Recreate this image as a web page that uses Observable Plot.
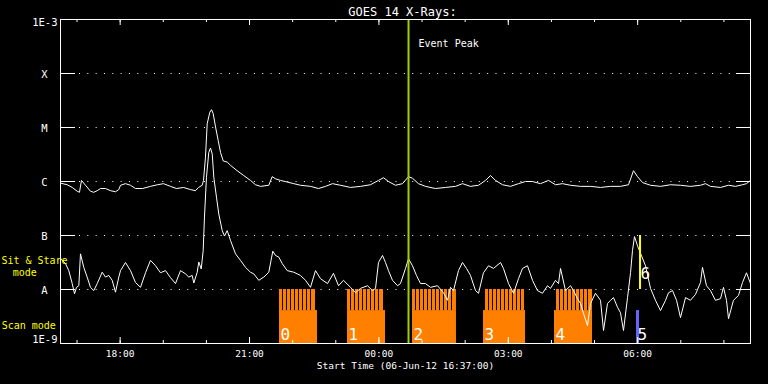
<!DOCTYPE html>
<html><head><meta charset="utf-8">
<script src="https://cdn.jsdelivr.net/npm/d3@7"></script>
<script src="https://cdn.jsdelivr.net/npm/@observablehq/plot@0.6"></script>
<style>html,body{margin:0;padding:0;background:#000;overflow:hidden}</style>
</head><body><div id="chart"></div>
<script>
// ---- data ----
const START = Date.UTC(2012, 5, 6, 16, 37); // 06-Jun-12 16:37:00 UT
const END_MIN = 960;

// GOES 14 long channel (1-8 A): [minutes after start, log10 flux W/m^2]
const longChannel = [[0,-6.03],[9.3,-6.06],[16.3,-6.11],[23.2,-6.18],[26.4,-6.20],[29.2,-5.98],[34.8,-6.07],[41.7,-6.18],[46.3,-6.20],[51.1,-6.17],[55.7,-6.13],[62.6,-6.13],[69.6,-6.17],[76.5,-6.19],[81.1,-6.15],[83.5,-6.07],[90.4,-6.04],[97.4,-6.07],[104.3,-6.13],[114.1,-6.13],[125.2,-6.09],[135,-6.06],[143.3,-6.04],[153,-6.09],[161.4,-6.13],[171.1,-6.11],[180.9,-6.15],[187.8,-6.17],[192,-6.11],[197.1,-6.07],[199,-5.98],[201.7,-5.55],[204.1,-4.93],[207.7,-4.72],[210.1,-4.67],[212.4,-4.74],[215.7,-4.99],[219.4,-5.24],[222.6,-5.46],[226.4,-5.62],[231.9,-5.64],[236.5,-5.70],[245.8,-5.80],[255,-5.89],[264.3,-5.98],[271.3,-6.06],[278.3,-6.09],[289.8,-6.07],[294.5,-5.91],[299.1,-5.95],[306.1,-5.98],[315.4,-6.01],[324.6,-6.04],[333.9,-6.07],[347.8,-6.09],[359,-6.13],[368.7,-6.09],[378.4,-6.04],[389.6,-6.07],[403.5,-6.11],[417.4,-6.09],[431.3,-6.06],[442.4,-5.98],[449.4,-5.93],[456.3,-6.00],[466.1,-6.07],[475.8,-6.04],[484.2,-5.91],[489.7,-5.94],[498.1,-6.04],[507.8,-6.09],[521.7,-6.13],[535.6,-6.11],[549.6,-6.09],[559.3,-6.04],[570.4,-6.09],[581.6,-6.07],[591.3,-5.98],[598.3,-5.89],[605.2,-5.98],[615,-6.06],[626.1,-6.09],[637.2,-6.04],[647,-6.00],[656.7,-6.00],[667.8,-6.04],[679,-5.98],[688.7,-6.06],[698.4,-6.04],[709.6,-6.07],[723.5,-6.09],[737.4,-6.09],[751.3,-6.11],[765.2,-6.09],[779.1,-6.09],[790.3,-6.06],[797.2,-5.80],[802.8,-5.91],[809.8,-6.02],[820.9,-6.07],[834.8,-6.09],[848.7,-6.06],[862.6,-6.07],[876.5,-6.09],[890.4,-6.07],[897.4,-6.04],[904.3,-6.09],[918.3,-6.11],[929.4,-6.07],[939.1,-6.09],[948.9,-6.06],[954.4,-6.04],[960,-5.98]];

// GOES 14 short channel (0.5-4 A)
const shortChannel = [[0,-7.43],[7,-7.52],[11.5,-7.65],[16.3,-7.89],[19.5,-8.08],[22.3,-7.96],[25.5,-7.93],[27.8,-7.34],[32.4,-7.59],[37.1,-7.77],[41.7,-7.96],[46.3,-8.02],[51.1,-7.89],[58,-7.68],[62.6,-7.77],[67.2,-7.74],[71.9,-7.83],[76.5,-8.05],[81.1,-7.77],[83.5,-7.65],[90.4,-7.50],[97.4,-7.65],[104.3,-7.87],[111.3,-7.96],[118.3,-7.69],[125.2,-7.46],[132.2,-7.56],[139.1,-7.69],[146.1,-7.65],[153,-7.78],[160,-7.89],[167,-7.65],[173.9,-7.71],[178.5,-7.77],[183.2,-7.74],[185.5,-7.88],[190.2,-7.68],[192.4,-7.49],[195.8,-7.62],[198.5,-7.28],[200.3,-6.66],[203.1,-5.92],[206.3,-5.46],[208.7,-5.38],[211.1,-5.49],[213.3,-5.92],[217,-6.29],[220.2,-6.60],[225,-6.91],[228.2,-7.01],[231.9,-6.91],[236.5,-7.09],[243.5,-7.34],[250.4,-7.46],[257.4,-7.59],[264.3,-7.68],[268.9,-7.71],[275.9,-7.83],[282.9,-7.77],[289.8,-7.68],[295.4,-7.29],[299.1,-7.37],[303.7,-7.40],[308.5,-7.52],[315.4,-7.65],[324.6,-7.68],[333.9,-7.74],[340.9,-7.83],[347.8,-7.96],[354.8,-7.65],[361.7,-7.80],[371.5,-7.89],[379.8,-7.70],[386.8,-7.93],[393.7,-7.83],[403.5,-7.96],[410.4,-8.06],[417.4,-7.98],[427.1,-7.93],[434.1,-8.02],[438.3,-7.98],[442.4,-7.50],[448,-7.37],[452.2,-7.50],[456.3,-7.65],[461.9,-7.83],[468.9,-7.93],[473,-7.89],[480,-7.61],[484.2,-7.43],[489.7,-7.56],[495.3,-7.74],[500.9,-7.89],[507.8,-7.89],[514.8,-7.96],[524.5,-7.93],[532.9,-8.06],[538.4,-8.20],[542.6,-7.96],[546.8,-8.02],[553.7,-7.65],[559.3,-7.50],[564.9,-7.61],[570.4,-7.74],[577.4,-8.02],[581.6,-8.07],[588.5,-7.69],[595.5,-7.56],[602.4,-7.61],[612.2,-7.50],[616.3,-7.61],[623.3,-7.89],[630.3,-8.07],[637.2,-7.80],[642.8,-7.61],[649.7,-7.56],[656.7,-7.83],[663.6,-8.02],[670.6,-8.07],[677.6,-7.93],[681.7,-7.98],[688.7,-7.83],[692.9,-7.89],[695.7,-7.61],[702.6,-8.02],[709.6,-7.93],[713.7,-8.02],[719.3,-8.17],[723.5,-8.26],[727.6,-8.44],[733.2,-8.67],[737.4,-8.26],[744.3,-8.07],[751.3,-8.20],[755.5,-8.76],[761,-8.26],[765.2,-8.20],[769.4,-8.15],[775,-8.33],[779.1,-8.43],[783.3,-8.76],[788.9,-8.15],[793.1,-7.69],[795.8,-7.28],[798.6,-7.02],[802.8,-7.19],[807,-7.33],[813.9,-7.56],[820.9,-7.98],[827.8,-8.20],[834.8,-8.39],[841.8,-8.20],[845.9,-8.06],[851.5,-8.02],[857.1,-8.20],[862.6,-8.52],[869.6,-8.15],[876.5,-8.20],[883.5,-8.09],[890.4,-7.87],[893.2,-7.59],[898.8,-7.93],[904.3,-8.02],[911.3,-8.20],[918.3,-8.17],[922.4,-7.96],[926.6,-8.20],[929.4,-8.54],[936.3,-8.20],[943.3,-8.11],[948.9,-7.87],[954.4,-7.69],[960,-7.89]];

// Observation studies (minutes after start)
const studyLabels = ["0", "1", "2", "3", "4"];
const scanStart  = [304.7, 399.3, 489.7, 588.5, 687.3];
const scanEnd    = [357.6, 452.2, 550.9, 647.0, 740.2];
const stareStart = [304.7, 399.3, 489.7, 591.3, 690.1];
const stareEnd   = [354.8, 449.4, 550.9, 645.6, 740.2];
const stareGaps = [
  308.9, 314.4, 320.0, 325.6, 331.1, 336.7, 342.3, 347.8,
  403.5, 409.0, 414.6, 420.2, 425.7, 431.3, 436.9, 442.4,
  493.9, 499.5, 505.0, 510.6, 516.2, 521.7, 527.3, 532.9, 538.4, 544.0,
  595.5, 601.0, 606.6, 612.2, 617.7, 623.3, 628.9, 634.4, 640.0,
  694.3, 699.8, 705.4, 711.0, 716.5, 722.1, 727.7, 733.2
];
const scanStudy5 = {label: "5", start: 801.4, end: 805.6};
const stareStudy6 = {label: "6", start: 805.6, end: 808.4};
const eventPeak = 484.2; // 00:41 UT

// Axis labels
const levelValues = [1e-3, 1e-4, 1e-5, 1e-6, 1e-7, 1e-8, 1e-9];
const levelLabels = ["1E-3", "X", "M", "C", "B", "A", "1E-9"];
const gridLevels = [1e-4, 1e-5, 1e-6, 1e-7, 1e-8];
const majorTickTimes = ["2012-06-06T18:00Z", "2012-06-06T21:00Z", "2012-06-07T00:00Z", "2012-06-07T03:00Z", "2012-06-07T06:00Z"];
const majorTickLabels = ["18:00", "21:00", "00:00", "03:00", "06:00"];
const titleText = "GOES 14 X-Rays:";
const xTitle = "Start Time (06-Jun-12 16:37:00)";

// ---- build ----
const t = m => new Date(START + m * 60000);
const longData = longChannel.map(([m, l]) => ({t: t(m), f: Math.pow(10, l)}));
const shortData = shortChannel.map(([m, l]) => ({t: t(m), f: Math.pow(10, l)}));
const studies = studyLabels.map((label, i) => ({label, s0: scanStart[i], s1: scanEnd[i], r0: stareStart[i], r1: stareEnd[i]}));
const majors = majorTickTimes.map((d, i) => ({t: new Date(d), label: majorTickLabels[i]}));
const hours = d3.utcHour.range(t(0), t(END_MIN));
const levels = levelValues.map((v, i) => ({v, label: levelLabels[i]}));

const ORANGE = "#ff8000";
const SCAN_TOP = Math.pow(10, -8.39);
const FONT = "DejaVu Sans Mono";
const PW = 690, PH = 324;

const chart = Plot.plot({
  width: 768, height: 384,
  marginLeft: 60, marginRight: 18, marginTop: 19, marginBottom: 41,
  style: {background: "black", color: "white", fontFamily: FONT},
  x: {type: "utc", domain: [t(0), t(END_MIN)], axis: null},
  y: {type: "log", domain: [1e-9, 1e-3], axis: null},
  marks: [
    Plot.ruleY(gridLevels, {y: d => d, stroke: "white", strokeDasharray: "1,7.33", strokeDashoffset: -2.33}),
    Plot.rect(studies, {x1: d => t(d.s0), x2: d => t(d.s1), y1: 1e-9, y2: SCAN_TOP, fill: ORANGE}),
    Plot.rect(studies, {x1: d => t(d.r0), x2: d => t(d.r1), y1: SCAN_TOP, y2: 1e-8, fill: ORANGE}),
    Plot.ruleX(stareGaps, {x: d => t(d), y1: SCAN_TOP, y2: 1e-8, stroke: "black", strokeWidth: 1}),
    Plot.rect([scanStudy5], {x1: d => t(d.start), x2: d => t(d.end), y1: 1e-9, y2: SCAN_TOP, fill: "#6464ff"}),
    Plot.line(longData, {x: "t", y: "f", stroke: "white", strokeWidth: 1}),
    Plot.line(shortData, {x: "t", y: "f", stroke: "white", strokeWidth: 1}),
    Plot.rect([stareStudy6], {x1: d => t(d.start), x2: d => t(d.end), y1: 1e-8, y2: 1e-7, fill: "#ffff00"}),
    Plot.ruleX([eventPeak], {x: d => t(d), stroke: "#a0d000", strokeWidth: 2}),
    Plot.text(studies, {x: d => t(d.s0), text: "label", frameAnchor: "bottom", lineAnchor: "bottom", textAnchor: "start", dx: 1, dy: -4, fill: "white", fontSize: 16}),
    Plot.text([scanStudy5], {x: d => t(d.start), text: "label", frameAnchor: "bottom", lineAnchor: "bottom", textAnchor: "start", dx: 1, dy: -4, fill: "white", fontSize: 16}),
    Plot.text([stareStudy6], {x: d => t(d.start), text: "label", frameAnchor: "bottom", lineAnchor: "bottom", textAnchor: "start", dx: 1, dy: -65, fill: "white", fontSize: 16}),
    Plot.text(["Event Peak"], {x: () => t(eventPeak), text: d => d, frameAnchor: "top", textAnchor: "start", dx: 10, dy: 20.5, fill: "white", fontSize: 10}),
    Plot.frame({stroke: "white"}),
    Plot.tickY(gridLevels, {y: d => d, stroke: "white", insetRight: PW - 15}),
    Plot.tickY(gridLevels, {y: d => d, stroke: "white", insetLeft: PW - 14}),
    Plot.tickX(hours, {x: d => d, stroke: "white", insetTop: PH - 3}),
    Plot.tickX(hours, {x: d => d, stroke: "white", insetBottom: PH - 3}),
    Plot.tickX(majors, {x: "t", stroke: "white", insetTop: PH - 6}),
    Plot.tickX(majors, {x: "t", stroke: "white", insetBottom: PH - 6}),
    Plot.text(majors, {x: "t", text: "label", frameAnchor: "bottom", dy: 13, fill: "white", fontSize: 9.5}),
    Plot.text([xTitle], {text: d => d, frameAnchor: "bottom", dy: 25.5, fill: "white", fontSize: 9.5}),
    Plot.text([titleText], {text: d => d, frameAnchor: "top", dx: -3, dy: -12.5, fill: "white", fontSize: 12}),
    Plot.text(levels.filter(d => d.label.length === 1), {y: "v", text: "label", frameAnchor: "left", textAnchor: "middle", dx: -16, dy: 1, fill: "white", fontSize: 10.5}),
    Plot.text(levels.filter(d => d.label === "1E-3"), {y: "v", text: "label", frameAnchor: "left", textAnchor: "end", dx: -3, dy: 3.5, fill: "white", fontSize: 10.5}),
    Plot.text(levels.filter(d => d.label === "1E-9"), {y: "v", text: "label", frameAnchor: "left", textAnchor: "end", dx: -3, dy: -3.5, fill: "white", fontSize: 10.5}),
    Plot.text(["Sit & Stare"], {text: d => d, frameAnchor: "top-left", textAnchor: "middle", dx: -26, dy: 237, fill: "#ffff00", fontSize: 10}),
    Plot.text(["mode"], {text: d => d, frameAnchor: "top-left", textAnchor: "middle", dx: -35.7, dy: 249, fill: "#ffff00", fontSize: 10}),
    Plot.text(["Scan mode"], {text: d => d, frameAnchor: "top-left", textAnchor: "middle", dx: -31.7, dy: 302, fill: "#ffff00", fontSize: 10})
  ]
});
document.getElementById("chart").appendChild(chart);
</script></body></html>
